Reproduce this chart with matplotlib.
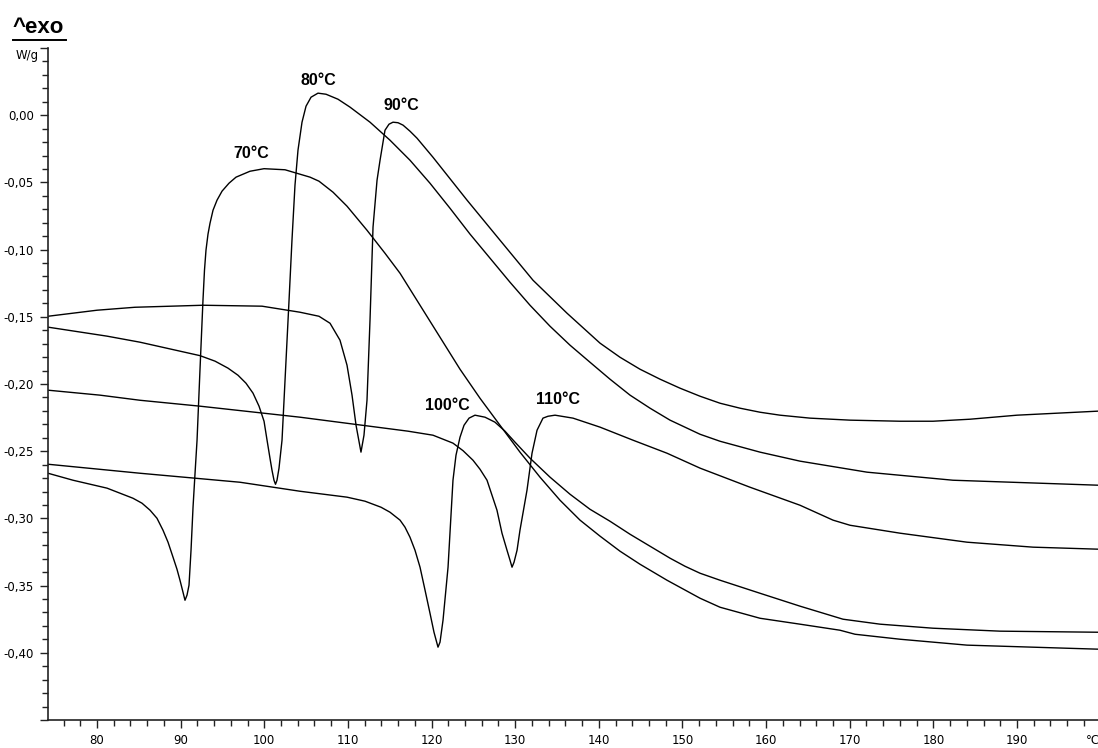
import matplotlib
matplotlib.use("Agg")
import matplotlib.pyplot as plt
import numpy as np
from matplotlib.ticker import FixedLocator, FuncFormatter
from matplotlib.lines import Line2D

# ---------------- data ----------------
labels = ["70°C", "80°C", "90°C", "100°C", "110°C"]

temp_70 = [74.14, 77.13, 81.20, 84.30, 85.38, 86.34, 87.17, 87.89, 88.49, 89.09,
           89.56, 89.92, 90.28, 90.52, 90.76, 91.00,
           91.24, 91.48, 91.72, 91.96, 92.31, 92.67, 92.85, 93.03, 93.27, 93.51,
           93.87, 94.35, 94.95, 95.78, 96.62, 98.29, 99.97, 102.48, 104.27, 105.47,
           106.54, 108.22, 109.89, 112.28, 114.43, 116.23, 118.62, 121.01, 123.40, 125.79,
           128.18, 130.57, 132.96, 135.36, 137.75, 140.14, 142.53, 144.92, 148.15, 152.10,
           154.49, 159.27, 164.05, 168.83, 170.63, 176.01, 184.02, 195.97, 199.68]
dsc_70 = [-0.2664, -0.2716, -0.2775, -0.2850, -0.2887, -0.2939, -0.2999, -0.3088, -0.3177, -0.3289,
          -0.3378, -0.3460, -0.3549, -0.3609, -0.3571, -0.3497,
          -0.3237, -0.2917, -0.2664, -0.2418, -0.1897, -0.1376, -0.1153, -0.1004, -0.0885, -0.0804,
          -0.0707, -0.0632, -0.0565, -0.0506, -0.0461, -0.0417, -0.0398, -0.0406, -0.0439, -0.0461,
          -0.0491, -0.0573, -0.0677, -0.0856, -0.1027, -0.1176, -0.1414, -0.1652, -0.1890, -0.2106,
          -0.2307, -0.2507, -0.2693, -0.2865, -0.3013, -0.3132, -0.3244, -0.3341, -0.3460, -0.3594,
          -0.3661, -0.3743, -0.3787, -0.3832, -0.3862, -0.3899, -0.3943, -0.3966, -0.3973]

temp_80 = [74.14, 81.20, 85.14, 92.31, 94.11, 95.66, 96.86, 97.81, 98.65, 99.37,
           99.97, 100.33, 100.68, 100.92, 101.16, 101.34, 101.52, 101.76, 102.12, 102.36,
           102.60, 102.96, 103.31, 103.67, 104.03, 104.51, 104.99, 105.59, 106.42, 107.38,
           108.81, 110.25, 112.64, 115.03, 117.42, 119.81, 122.20, 124.60, 126.99, 129.38,
           131.77, 134.16, 136.55, 138.94, 141.33, 143.73, 146.12, 148.51, 152.10, 154.49,
           159.27, 164.05, 172.06, 182.34, 199.68]
dsc_80 = [-0.1577, -0.1644, -0.1689, -0.1789, -0.1830, -0.1882, -0.1935, -0.1994, -0.2068, -0.2165,
          -0.2277, -0.2418, -0.2552, -0.2641, -0.2716, -0.2746, -0.2716, -0.2626, -0.2418, -0.2121,
          -0.1823, -0.1376, -0.0930, -0.0521, -0.0260, -0.0052, 0.0067, 0.0134, 0.0164, 0.0156,
          0.0119, 0.0060, -0.0052, -0.0186, -0.0335, -0.0506, -0.0692, -0.0885, -0.1064, -0.1243,
          -0.1414, -0.1570, -0.1711, -0.1838, -0.1964, -0.2083, -0.2180, -0.2269, -0.2374, -0.2426,
          -0.2507, -0.2574, -0.2656, -0.2716, -0.2753]

temp_90 = [74.14, 80.00, 84.54, 92.67, 99.73, 104.27, 106.54, 107.86, 109.05, 109.89,
           110.49, 110.97, 111.56, 111.92, 112.28, 112.64, 113.00, 113.48, 113.84, 114.43,
           114.91, 115.39, 115.99, 116.59, 117.42, 118.26, 120.17, 124.24, 128.18, 132.13,
           136.19, 140.14, 142.53, 144.92, 147.31, 149.70, 152.10, 154.49, 156.88, 159.27,
           161.66, 165.25, 170.03, 176.01, 179.95, 184.38, 190.00, 199.68]
dsc_90 = [-0.1496, -0.1451, -0.1429, -0.1414, -0.1421, -0.1466, -0.1496, -0.1548, -0.1674, -0.1860,
          -0.2083, -0.2307, -0.2507, -0.2381, -0.2121, -0.1525, -0.0833, -0.0484, -0.0335, -0.0112,
          -0.0067, -0.0052, -0.0056, -0.0074, -0.0119, -0.0171, -0.0313, -0.0632, -0.0930, -0.1228,
          -0.1473, -0.1696, -0.1801, -0.1890, -0.1964, -0.2031, -0.2091, -0.2143, -0.2180, -0.2210,
          -0.2232, -0.2254, -0.2269, -0.2277, -0.2277, -0.2262, -0.2232, -0.2202]

temp_100 = [74.14, 85.14, 97.10, 104.27, 109.89, 112.04, 113.96, 115.03, 116.23, 116.82, 117.42,
            118.02, 118.62, 119.22, 119.81, 120.29, 120.77, 121.01, 121.37, 121.97, 122.56,
            122.92, 123.40, 123.88, 124.48, 125.19, 126.39, 127.58, 128.78, 129.98, 131.77,
            134.16, 136.55, 138.94, 141.33, 143.73, 146.12, 148.51, 150.30, 152.10, 154.49,
            159.27, 164.05, 169.19, 173.62, 179.95, 187.96, 199.68]
dsc_100 = [-0.2597, -0.2664, -0.2731, -0.2798, -0.2842, -0.2872, -0.2917, -0.2954, -0.3013, -0.3065, -0.3140,
           -0.3237, -0.3363, -0.3534, -0.3705, -0.3847, -0.3958, -0.3921, -0.3757, -0.3363, -0.2716,
           -0.2530, -0.2396, -0.2307, -0.2254, -0.2232, -0.2247, -0.2284, -0.2351, -0.2433, -0.2552,
           -0.2693, -0.2820, -0.2932, -0.3021, -0.3118, -0.3207, -0.3296, -0.3356, -0.3408, -0.3460,
           -0.3557, -0.3653, -0.3750, -0.3787, -0.3817, -0.3839, -0.3847]

temp_110 = [74.14, 80.36, 85.14, 92.31, 104.27, 117.18, 120.17, 122.56, 123.76, 124.95, 125.79,
            126.63, 127.82, 128.42, 129.02, 129.38, 129.62, 129.86, 130.22, 130.57, 131.41,
            132.01, 132.61, 133.32, 133.92, 134.76, 136.91, 140.14, 144.08, 148.15, 152.10,
            158.07, 164.05, 168.00, 170.03, 176.01, 184.02, 191.91, 199.68]
dsc_110 = [-0.2046, -0.2083, -0.2121, -0.2165, -0.2247, -0.2351, -0.2381, -0.2440, -0.2496, -0.2567, -0.2634,
           -0.2716, -0.2939, -0.3110, -0.3237, -0.3311, -0.3363, -0.3326, -0.3237, -0.3088, -0.2790,
           -0.2515, -0.2344, -0.2254, -0.2240, -0.2232, -0.2254, -0.2321, -0.2418, -0.2515, -0.2626,
           -0.2768, -0.2902, -0.3013, -0.3051, -0.3110, -0.3177, -0.3214, -0.3229]

series_t = [temp_70, temp_80, temp_90, temp_100, temp_110]
series_y = [dsc_70, dsc_80, dsc_90, dsc_100, dsc_110]

x_major = [80, 90, 100, 110, 120, 130, 140, 150, 160, 170, 180, 190]

# ---------------- figure ----------------
W, H = 1098, 748
fig = plt.figure(figsize=(W / 100, H / 100), dpi=100)
ax = fig.add_axes([48 / W, 1 - 720 / H, 1 - 48 / W, (720 - 48) / H])

for t, y in zip(series_t, series_y):
    ax.plot(t, y, color="black", lw=1.0, solid_joinstyle="round")

ax.set_xlim(74.14, 199.68)
ax.set_ylim(-0.45, 0.05)

for s in ("top", "right"):
    ax.spines[s].set_visible(False)
for s in ("left", "bottom"):
    ax.spines[s].set_linewidth(1.2)
    ax.spines[s].set_color("#222222")

ax.xaxis.set_major_locator(FixedLocator(x_major))
ax.xaxis.set_minor_locator(FixedLocator(np.arange(74, 200, 2)))
ax.yaxis.set_major_locator(FixedLocator(np.round(np.arange(-0.45, 0.0501, 0.05), 2)))
ax.yaxis.set_minor_locator(FixedLocator(np.round(np.arange(-0.45, 0.0501, 0.01), 2)))


def yfmt(v, pos):
    if v > 0.01 or v < -0.42:
        return ""
    if abs(v) < 1e-9:
        return "0,00"
    return ("%.2f" % v).replace(".", ",")


ax.yaxis.set_major_formatter(FuncFormatter(yfmt))
ax.xaxis.set_major_formatter(FuncFormatter(lambda v, p: "%d" % v))

ax.tick_params(which="major", direction="out", length=6, width=1.0, color="#222222",
               labelsize=8.5, pad=4)
ax.tick_params(which="minor", direction="out", length=4.5, width=1.0, color="#222222")
for lab in ax.get_xticklabels() + ax.get_yticklabels():
    lab.set_family("DejaVu Sans")

# curve labels
label_pos = [(98.50, -0.0285), (106.42, 0.0260), (116.35, 0.0074),
             (121.91, -0.2158), (135.06, -0.2117)]
for lab, (lx, ly) in zip(labels, label_pos):
    ax.text(lx, ly, lab, ha="center", va="center", fontsize=11.5, fontweight="bold",
            family="Liberation Sans", clip_on=False)

# header texts
fig.text(13 / W, 1 - 33 / H, "^exo", ha="left", va="baseline", fontsize=16,
         fontweight="bold", family="Liberation Sans")
fig.add_artist(Line2D([13 / W, 66 / W], [1 - 40 / H, 1 - 40 / H], color="black", lw=1.4))
fig.text(39 / W, 1 - 55 / H, "W/g", ha="right", va="center", fontsize=8.5,
         family="DejaVu Sans")
fig.text(1086 / W, 1 - 740 / H, "°C", ha="left", va="center", fontsize=8.5,
         family="DejaVu Sans")

fig.savefig("out.png", dpi=100)
